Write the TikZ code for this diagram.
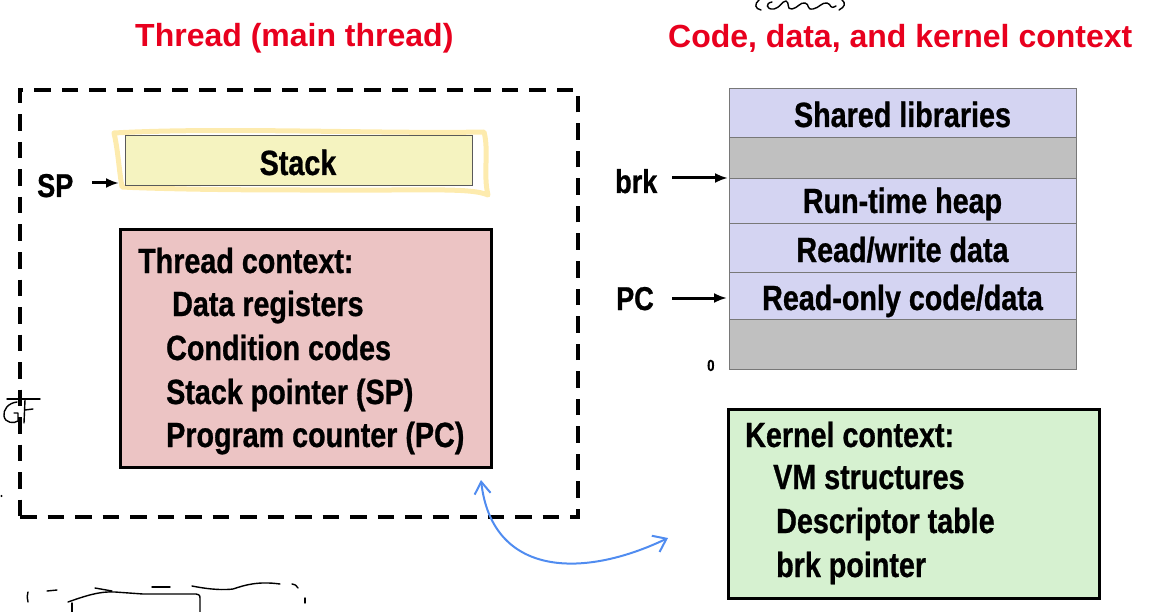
\documentclass[tikz,border=0pt]{standalone}
\usepackage{fontspec}
\setmainfont{Liberation Sans}
\newfontfamily\nar{Liberation Sans}[FakeStretch=0.82,FakeBold=0.8]
\usetikzlibrary{arrows.meta}
\definecolor{titlered}{RGB}{232,0,30}
\definecolor{stackyellow}{RGB}{245,243,192}
\definecolor{hlyellow}{RGB}{252,222,120}
\definecolor{lav}{RGB}{212,212,242}
\definecolor{memgrey}{RGB}{192,192,192}
\definecolor{rowline}{RGB}{120,120,120}
\definecolor{tpink}{RGB}{236,196,196}
\definecolor{kgreen}{RGB}{214,241,208}
\definecolor{handblue}{RGB}{80,140,240}
\tikzset{
  titletxt/.style={font=\fontsize{32}{36}\selectfont\bfseries, text=titlered, anchor=base west, inner sep=0pt},
  bodytxt/.style={font=\nar\bfseries\fontsize{35}{40}\selectfont, anchor=base west, inner sep=0pt},
  centtxt/.style={bodytxt, anchor=base},
  lbltxt/.style={font=\nar\bfseries\fontsize{33}{38}\selectfont, anchor=base west, inner sep=0pt},
  zerotxt/.style={font=\nar\bfseries\fontsize{16}{18}\selectfont, anchor=base west, inner sep=0pt},
  dashbox/.style={draw=black, line width=4pt, dash pattern=on 16.5pt off 11pt, inner sep=0pt, anchor=north west},
  ctxbox/.style={draw=black, line width=3pt, inner sep=0pt, anchor=north west},
  memrow/.style={draw=rowline, line width=1pt, minimum width=347pt, inner sep=0pt, anchor=north west},
  ptr/.style={-{Latex[length=13pt,width=10pt]}, line width=3pt},
  hl/.style={draw=hlyellow, line width=5pt, opacity=0.6, line cap=round, line join=round},
  handarrow/.style={draw=handblue, line width=2pt, line cap=round, {Straight Barb[length=12pt,width=16pt]}-{Straight Barb[length=12pt,width=18pt]}},
  scrib/.style={draw=black, line width=1.4pt, line cap=round, line join=round},
}
\begin{document}
\begin{tikzpicture}[x=1pt,y=-1pt]
\useasboundingbox (0,0) rectangle (1158,612);

% titles
\node[titletxt] (t1) at (135,47) {Thread (main thread)};
\node[titletxt] (t2) at (668,48) {Code, data, and kernel context};

% thread dashed box
\node[dashbox, minimum width=558pt, minimum height=427pt] (thr) at (18,88) {};

% stack
\draw[hl] (114,133) .. controls (220,127) and (380,134) .. (484,132)
  .. controls (489,150) and (483,175) .. (488,195)
  .. controls (470,187) and (420,191) .. (300,190)
  .. controls (200,190) and (140,188) .. (122,187)
  .. controls (119,170) and (118,150) .. (114,133);
\node[draw=black!65, line width=0.8pt, fill=stackyellow, minimum width=347pt, minimum height=50pt, inner sep=0pt, anchor=north west] (stack) at (125,135) {};
\node[centtxt] (stacktxt) at (298,175) {Stack};

% SP
\node[lbltxt] (sp) at (37,197) {SP};
\coordinate (spstart) at (92,183);
\draw[ptr, shorten >=6pt] (spstart) -- (spstart -| stack.west);

% thread context
\node[ctxbox, fill=tpink, minimum width=371pt, minimum height=238pt] (tctx) at (119,228) {};
\node[bodytxt] (tc0) at (138,273) {Thread context:};
\node[bodytxt] (tc1) at (172,316) {Data registers};
\node[bodytxt] (tc2) at (166,360) {Condition codes};
\node[bodytxt] (tc3) at (166,404) {Stack pointer (SP)};
\node[bodytxt] (tc4) at (166,447) {Program counter (PC)};

% memory layout
\node[memrow, fill=lav, minimum height=49pt] (shlib) at (729,88) {};
\node[memrow, fill=memgrey, minimum height=41pt] (gap1) at (729,137) {};
\node[memrow, fill=lav, minimum height=45pt] (heap) at (729,178) {};
\node[memrow, fill=lav, minimum height=49pt] (rwdata) at (729,223) {};
\node[memrow, fill=lav, minimum height=47pt] (rodata) at (729,272) {};
\node[memrow, fill=memgrey, minimum height=50pt] (gap0) at (729,319) {};
\node[centtxt] (shlibtxt) at (902.5,127) {Shared libraries};
\node[centtxt] (heaptxt) at (902.5,213) {Run-time heap};
\node[centtxt] (rwtxt) at (902.5,262) {Read/write data};
\node[centtxt] (rotxt) at (902.5,310) {Read-only code/data};

% pointers
\node[lbltxt] (brk) at (615,193) {brk};
\coordinate (brkstart) at (672,178);
\draw[ptr, shorten >=1pt] (brkstart) -- (heap.north west);
\node[lbltxt] (pc) at (616,310) {PC};
\coordinate (pcstart) at (672,298);
\draw[ptr, shorten >=2pt] (pcstart) -- (pcstart -| rodata.west);
\node[zerotxt] (zero) at (707,371) {0};

% kernel context
\node[ctxbox, fill=kgreen, minimum width=371pt, minimum height=189pt] (kctx) at (727,408) {};
\node[bodytxt] (kc0) at (745,447) {Kernel context:};
\node[bodytxt] (kc1) at (773,489) {VM structures};
\node[bodytxt] (kc2) at (776,533) {Descriptor table};
\node[bodytxt] (kc3) at (776,577) {brk pointer};

% hand-drawn blue double arrow
\coordinate (bs) at (481,480);
\coordinate (be) at (668,538);
\draw[handarrow] (bs) .. controls (492,575) and (580,580) .. (be);

% hand-drawn scribbles
\draw[scrib] (759,0) .. controls (754,4) and (755,9) .. (761,10);
\draw[scrib] (772,2) .. controls (765,3) and (766,10) .. (774,9)
  .. controls (780,8) and (782,1) .. (786,1) .. controls (790,2) and (786,10) .. (792,9)
  .. controls (798,8) and (800,2) .. (805,3) .. controls (810,4) and (806,10) .. (813,9)
  .. controls (819,8) and (822,2) .. (827,3) .. controls (832,4) and (829,10) .. (836,6);
\draw[scrib] (842,0) .. controls (846,3) and (845,7) .. (839,10);

\draw[scrib] (7,399) -- (40,399);
\draw[scrib] (17,402) .. controls (8,403) and (3,410) .. (4,416) .. controls (5,423) and (14,424) .. (18,421) -- (18,413) -- (14,413);
\draw[scrib] (25,400) -- (24,423);
\draw[scrib] (25,410) -- (33,409);
\fill (1.5,496) circle (1.2pt);

\draw[scrib] (28,592) .. controls (27,596) .. (28,602);
\draw[scrib] (47,591) -- (57,590);
\draw[scrib] (95,588) -- (112,591);
\draw[scrib] (152,587) -- (170,587);
\draw[scrib] (192,586) .. controls (212,590) and (225,590) .. (233,589) .. controls (245,585) and (258,581) .. (280,584);
\draw[scrib] (292,584) .. controls (296,585) .. (298,588);
\draw[scrib] (305,598) -- (305,603);
\draw[scrib] (72,612) -- (72,603);
\draw[scrib] (68,602) .. controls (85,596) and (100,591) .. (115,592) -- (143,594) -- (196,594) .. controls (200,595) .. (200,600) -- (200,612);
\end{tikzpicture}
\end{document}
